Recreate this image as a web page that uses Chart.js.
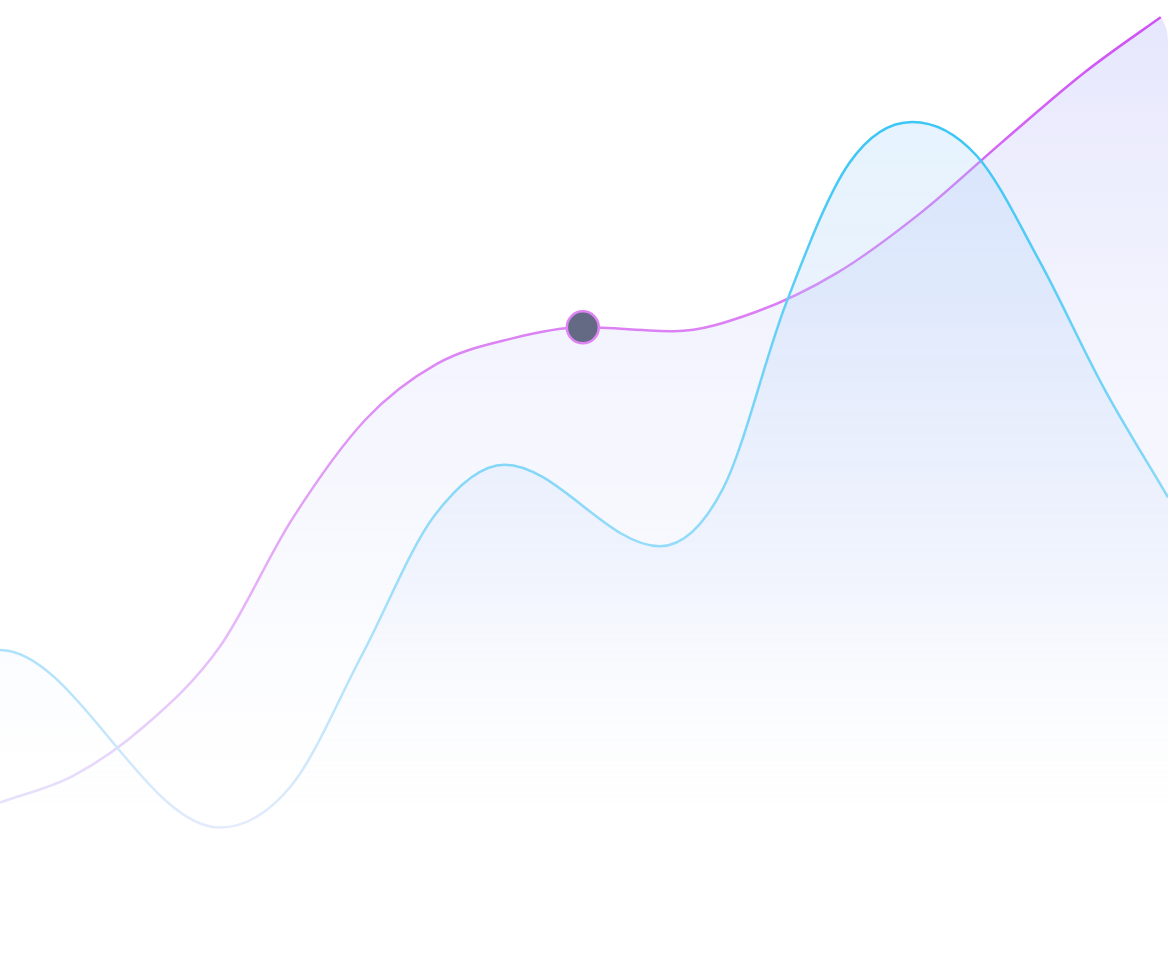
<!DOCTYPE html>
<html>
<head>
<meta charset="utf-8">
<script src="https://cdn.jsdelivr.net/npm/chart.js@4/dist/chart.umd.min.js"></script>
<style>
  html, body { margin: 0; padding: 0; background: #fff; }
  .wrap { width: 1168px; height: 960px; border-radius: 40px; overflow: hidden; position: relative; }
</style>
</head>
<body>
<div class="wrap"><canvas id="chart"></canvas></div>
<script>
// blue series (x and y on 0..100 scales; first point lies just left of the view)
const blueX = [-5.0, 0, 18.8, 24.9, 31.0, 37.2, 43.2, 56.5, 61.9, 67.3, 72.7, 78.1, 83.6, 89.0, 94.5, 100];
const blueY = [27.1, 32.3, 13.8, 18.1, 31.8, 46.3, 51.6, 43.1, 49.1, 68.4, 83.0, 87.3, 83.8, 72.8, 59.6, 48.2];

// purple series
const purpleX = [0, 6.3, 12.5, 18.8, 25.0, 31.3, 37.4, 43.7, 49.9, 57.7, 64.7, 71.7, 78.8, 85.8, 92.9, 100];
const purpleY = [16.4, 19.2, 24.5, 32.6, 45.9, 56.3, 62.1, 64.7, 65.9, 65.5, 67.5, 71.6, 77.8, 85.2, 92.5, 98.75];

// highlighted point on the purple line
const activeIndex = 8;

const toPoints = (xs, ys) => xs.map((x, i) => ({ x: x, y: ys[i] }));

// vertical gradient helper, built from the chart area
function vGrad(ctx, stops) {
  const chart = ctx.chart;
  const area = chart.chartArea;
  if (!area) return null;
  const g = chart.ctx.createLinearGradient(0, area.top, 0, area.bottom);
  stops.forEach(s => g.addColorStop(s[0], s[1]));
  return g;
}

const ctx = document.getElementById('chart').getContext('2d');
new Chart(ctx, {
  type: 'line',
  data: {
    datasets: [
      {
        label: 'blue',
        data: toPoints(blueX, blueY),
        cubicInterpolationMode: 'monotone',
        borderWidth: 2.5,
        borderColor: c => vGrad(c, [
          [0, '#36c5f4'], [0.15, '#3cc7f5'], [0.5, '#86d8f8'],
          [0.68, '#ade2fb'], [0.86, '#e3ebfc'], [1, '#f2f5fe']
        ]),
        backgroundColor: c => vGrad(c, [
          [0, 'rgba(165,215,248,0.3)'], [0.3, 'rgba(175,208,248,0.27)'],
          [0.6, 'rgba(195,212,248,0.15)'], [0.88, 'rgba(255,255,255,0)'], [1, 'rgba(255,255,255,0)']
        ]),
        fill: 'start',
        pointRadius: 0,
        pointHoverRadius: 0
      },
      {
        label: 'purple',
        data: toPoints(purpleX, purpleY),
        cubicInterpolationMode: 'monotone',
        borderWidth: 2.5,
        borderColor: c => vGrad(c, [
          [0, '#cf4ff5'], [0.34, '#dc80f4'], [0.65, '#e7b6f8'],
          [0.84, '#e6e2fc'], [1, '#f2f2fe']
        ]),
        backgroundColor: c => vGrad(c, [
          [0, 'rgba(200,200,250,0.46)'], [0.35, 'rgba(210,215,250,0.28)'],
          [0.6, 'rgba(220,225,250,0.18)'], [0.9, 'rgba(255,255,255,0)'], [1, 'rgba(255,255,255,0)']
        ]),
        fill: 'start',
        pointRadius: c => c.dataIndex === activeIndex ? 16 : 0,
        pointBackgroundColor: '#646984',
        pointBorderColor: '#df84f5',
        pointBorderWidth: 2.5,
        pointHoverRadius: 0
      }
    ]
  },
  options: {
    responsive: true,
    maintainAspectRatio: false,
    animation: false,
    events: [],
    layout: { padding: 0 },
    plugins: {
      legend: { display: false },
      tooltip: { enabled: false }
    },
    scales: {
      x: { type: 'linear', min: 0, max: 100, display: false },
      y: { min: 0, max: 100, display: false }
    }
  }
});
</script>
</body>
</html>
